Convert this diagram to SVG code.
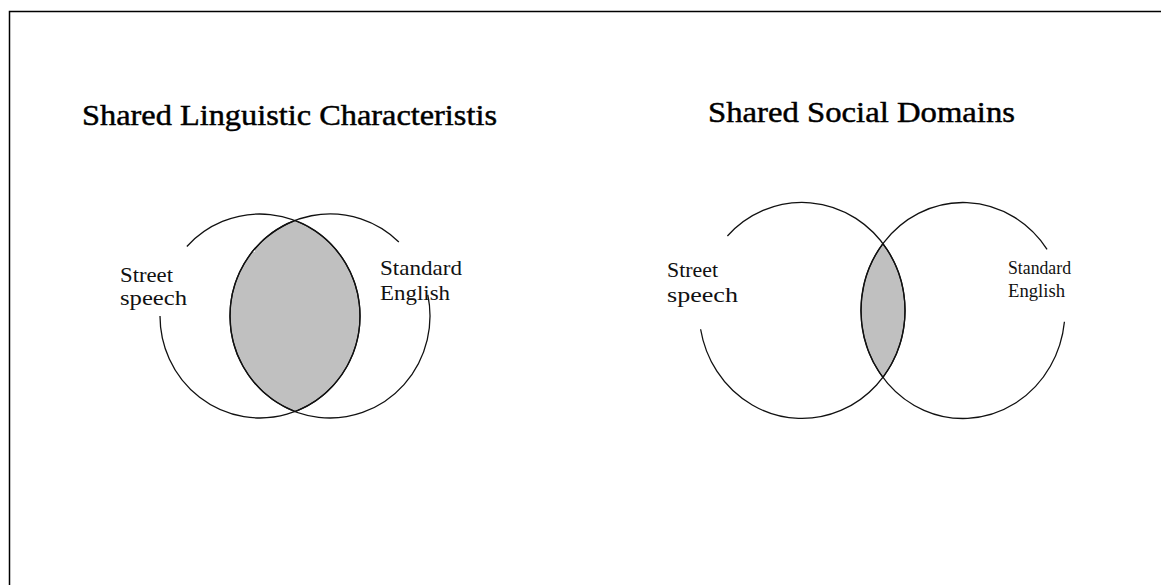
<svg xmlns="http://www.w3.org/2000/svg" width="1161" height="585" viewBox="0 0 1161 585">
  <style>
    .title { font-family: "Liberation Serif", "Times New Roman", serif; font-size: 29px; fill: #000; stroke: #000; stroke-width: 0.45; }
    .label { font-family: "Liberation Serif", "Times New Roman", serif; font-size: 21px; fill: #111; }
    .small { font-size: 19px; }
    .ring { fill: none; stroke: #111; stroke-width: 1.3; }
    .lens { fill: #c0c0c0; stroke: #111; stroke-width: 1.3; }
    .frame { stroke: #000; stroke-width: 1.5; fill: none; }
  </style>
  <rect x="0" y="0" width="1161" height="585" fill="#fff"/>
  <path class="frame" d="M9.5,585 V11.5 H1161"/>

  <g id="title-linguistic">
    <text class="title" x="82" y="125" textLength="415" lengthAdjust="spacingAndGlyphs">Shared Linguistic Characteristis</text>
  </g>
  <g id="title-social">
    <text class="title" x="708" y="122" textLength="307" lengthAdjust="spacingAndGlyphs">Shared Social Domains</text>
  </g>

  <!-- Left Venn: Shared Linguistic Characteristics -->
  <g id="ling-overlap">
    <path class="lens" d="M295,220.45 A100,102 0 0,0 295,411.55 A100,102 0 0,0 295,220.45 Z"/>
  </g>
  <g id="ling-street">
    <path class="ring" d="M186.86,246.44 A100,102 0 1,1 160,316"/>
    <text class="label" x="120" y="282" textLength="53" lengthAdjust="spacingAndGlyphs">Street</text>
    <text class="label" x="120" y="305" textLength="67" lengthAdjust="spacingAndGlyphs">speech</text>
  </g>
  <g id="ling-standard">
    <path class="ring" d="M427.81,294.79 A100,102 0 1,1 398.84,242"/>
    <text class="label" x="380" y="275" textLength="82" lengthAdjust="spacingAndGlyphs">Standard</text>
    <text class="label" x="380" y="300" textLength="70" lengthAdjust="spacingAndGlyphs">English</text>
  </g>

  <!-- Right Venn: Shared Social Domains -->
  <g id="social-overlap">
    <path class="lens" d="M882.89,243.65 A102,108 0 0,0 882.89,377.35 A103,108 0 0,0 882.89,243.65 Z"/>
  </g>
  <g id="social-street">
    <path class="ring" d="M727.4,236 A103,108 0 1,1 700.6,329.25"/>
    <text class="label" x="667" y="277" textLength="51" lengthAdjust="spacingAndGlyphs">Street</text>
    <text class="label" x="667" y="302" textLength="71" lengthAdjust="spacingAndGlyphs">speech</text>
  </g>
  <g id="social-standard">
    <path class="ring" d="M1064.44,321.79 A102,108 0 1,1 1047.06,249.33"/>
    <text class="label small" x="1008" y="274" textLength="63" lengthAdjust="spacingAndGlyphs">Standard</text>
    <text class="label small" x="1008" y="297" textLength="57" lengthAdjust="spacingAndGlyphs">English</text>
  </g>
</svg>
